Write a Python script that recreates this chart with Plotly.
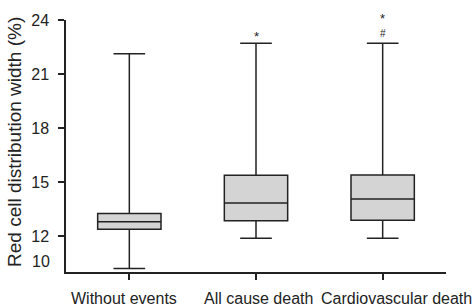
import plotly.graph_objects as go

categories = ["Without events", "All cause death", "Cardiovascular death"]
label_offsets = [-0.043, 0.022, 0.11]   # label centre shift from box centre (category units)
lower_whisker = [10.2, 11.87, 11.87]
q1_vals = [12.37, 12.85, 12.87]
median_vals = [12.79, 13.84, 14.06]
q3_vals = [13.25, 15.38, 15.39]
upper_whisker = [22.12, 22.71, 22.71]
y_tick_vals = [12, 15, 18, 21, 24]
y_tick_text = ["12", "15", "18", "21", "24"]
y_title = "Red cell distribution width (%)"

FONT = "Liberation Sans, Arial, sans-serif"
INK = "#222222"

fig = go.Figure()
fig.add_trace(go.Box(
    x=categories,
    q1=q1_vals, median=median_vals, q3=q3_vals,
    lowerfence=lower_whisker, upperfence=upper_whisker,
    fillcolor="#d4d4d4",
    line=dict(color=INK, width=1.5),
    width=0.5,
    whiskerwidth=0.5,
    boxpoints=False,
    hoverinfo="skip",
    showlegend=False,
))

# category labels (placed individually, as in the original)
for i, (cat, off) in enumerate(zip(categories, label_offsets)):
    fig.add_annotation(x=i + off, xref="x", y=0, yref="paper", text=cat,
                       showarrow=False, yanchor="middle", yshift=-26,
                       font=dict(family=FONT, size=16, color=INK))

# y-axis title
fig.add_annotation(text=y_title, textangle=-90, showarrow=False,
                   xref="paper", x=0, xanchor="center", xshift=-52,
                   yref="paper", y=0.5, yanchor="middle", yshift=4,
                   font=dict(family=FONT, size=19, color=INK))

# significance marks
fig.add_annotation(x=1, xref="x", y=0.936, yref="paper", text="*", showarrow=False,
                   yanchor="middle", font=dict(family=FONT, size=13, color=INK))
fig.add_annotation(x=2, xref="x", y=1.005, yref="paper", text="*", showarrow=False,
                   yanchor="middle", font=dict(family=FONT, size=13, color=INK))
fig.add_annotation(x=2, xref="x", y=0.948, yref="paper", text="#", showarrow=False,
                   yanchor="middle", font=dict(family=FONT, size=10, color=INK))
# "10" label at the axis base (no tick mark)
fig.add_annotation(xref="paper", x=0, y=10.6, text="10", showarrow=False,
                   xanchor="right", xshift=-14,
                   font=dict(family=FONT, size=16, color=INK))

fig.update_layout(
    width=476, height=307,
    margin=dict(l=66, r=30, t=20, b=35),
    paper_bgcolor="white", plot_bgcolor="white",
    font=dict(family=FONT, size=16, color=INK),
)
fig.update_xaxes(
    range=[-0.5, 2.5], showline=True, linecolor=INK, linewidth=1.5,
    ticks="outside", ticklen=6, tickcolor=INK, tickwidth=1.5,
    tickvals=categories, ticktext=["", "", ""],
    showgrid=False, zeroline=False,
)
fig.update_yaxes(
    range=[10, 24], showline=True, linecolor=INK, linewidth=1.5,
    ticks="outside", ticklen=6, tickcolor=INK, tickwidth=1.5,
    tickvals=y_tick_vals, ticktext=y_tick_text,
    ticklabelstandoff=6,
    showgrid=False, zeroline=False,
    tickfont=dict(family=FONT, size=16, color=INK),
)

fig.write_html("out.html", config={"displayModeBar": False},
               post_script="document.body.style.margin='0';")
